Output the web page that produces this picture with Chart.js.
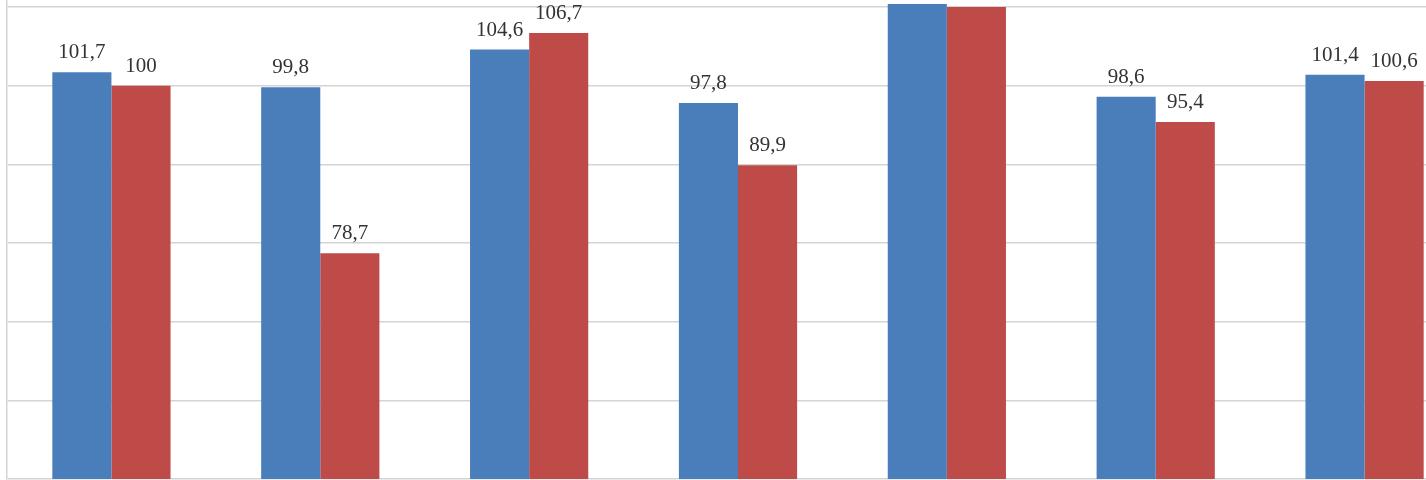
<!DOCTYPE html>
<html>
<head>
<meta charset="utf-8">
<script src="https://cdn.jsdelivr.net/npm/chart.js@4/dist/chart.umd.min.js"></script>
<style>
  html, body { margin: 0; padding: 0; background: #fff; overflow: hidden; }
  #wrap { width: 1472px; height: 480px; }
</style>
</head>
<body>
<div id="wrap"><canvas id="myChart" width="1472" height="480"></canvas></div>
<script>
const categories = ['1', '2', '3', '4', '5', '6', '7'];
const series1 = [101.7, 99.8, 104.6, 97.8, 110.4, 98.6, 101.4];
const series2 = [100, 78.7, 106.7, 89.9, 110.0, 95.4, 100.6];
const yTicks = [50, 60, 70, 80, 90, 100, 110];

// value labels over every bar, comma as decimal sign
const barLabels = {
    id: 'barLabels',
    afterDatasetsDraw(chart) {
        const c = chart.ctx;
        c.save();
        c.font = '21px "Liberation Serif", "Times New Roman", serif';
        c.fillStyle = '#333333';
        c.textAlign = 'center';
        c.textBaseline = 'alphabetic';
        chart.data.datasets.forEach((ds, i) => {
            chart.getDatasetMeta(i).data.forEach((bar, j) => {
                const v = ds.data[j];
                const txt = Number.isInteger(v) ? String(v) : v.toFixed(1).replace('.', ',');
                c.fillText(txt, bar.x, bar.y - 14);
            });
        });
        c.restore();
    }
};

const ctx = document.getElementById('myChart').getContext('2d');
const myChart = new Chart(ctx, {
    type: 'bar',
    data: {
        labels: categories,
        datasets: [{
            label: 'Ряд 1',
            data: series1,
            backgroundColor: '#4a7ebb',
            categoryPercentage: 0.566,
            barPercentage: 1
        }, {
            label: 'Ряд 2',
            data: series2,
            backgroundColor: '#be4b48',
            categoryPercentage: 0.566,
            barPercentage: 1
        }]
    },
    options: {
        responsive: false,
        animation: false,
        layout: { padding: { left: 7, right: 3, top: 0, bottom: 1 } },
        plugins: {
            legend: { display: false },
            tooltip: { enabled: false }
        },
        scales: {
            x: {
                display: false
            },
            y: {
                min: 50,
                max: 110.9,
                afterBuildTicks(axis) {
                    axis.ticks = yTicks.map(v => ({ value: v }));
                },
                grid: { color: '#d4d4d4', lineWidth: 1.5, drawTicks: false },
                ticks: { display: false },
                border: { display: true, color: '#d4d4d4', width: 1.5 }
            }
        }
    },
    plugins: [barLabels]
});
</script>
</body>
</html>
